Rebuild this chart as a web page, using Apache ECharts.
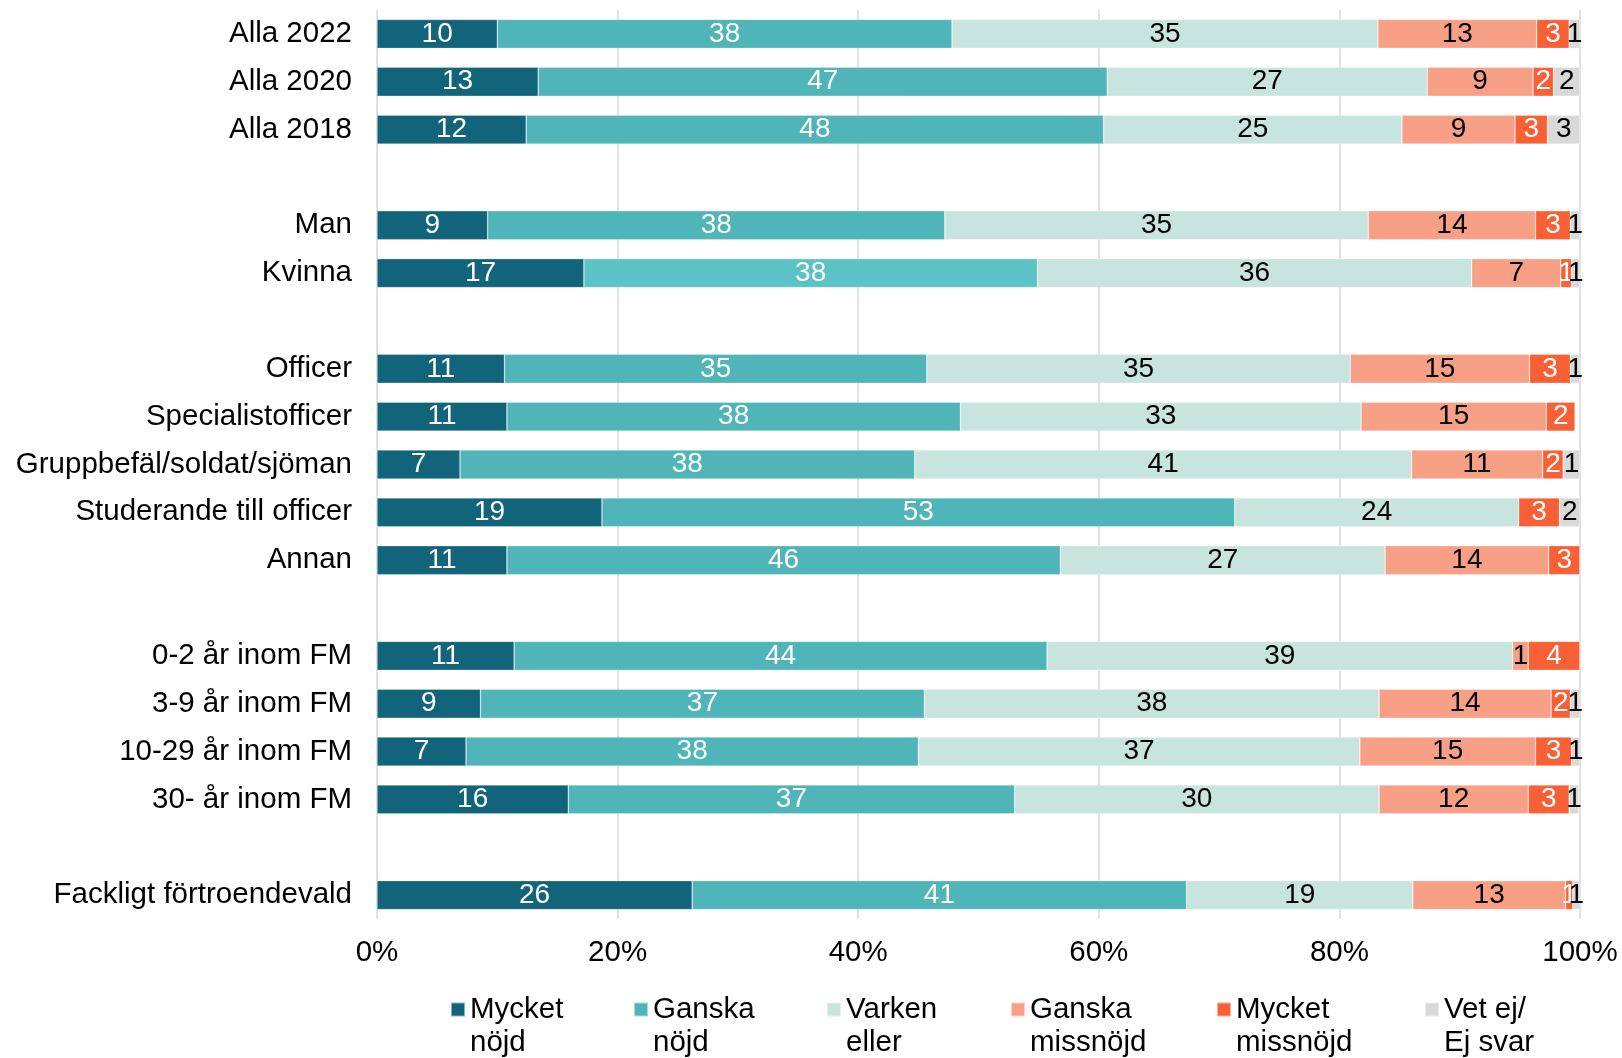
<!DOCTYPE html>
<html><head><meta charset="utf-8">
<script src="https://cdn.jsdelivr.net/npm/echarts@6/dist/echarts.min.js"></script>
<style>html,body{margin:0;padding:0;background:#fff}#chart{width:1622px;height:1058px}</style>
</head><body><div id="chart"></div>
<script>
const categories = ['Alla 2022','Alla 2020','Alla 2018','','Man','Kvinna',' ','Officer','Specialistofficer','Gruppbefäl/soldat/sjöman','Studerande till officer','Annan','  ','0-2 år inom FM','3-9 år inom FM','10-29 år inom FM','30- år inom FM','   ','Fackligt förtroendevald'];
const seriesNames = ['Mycket nöjd','Ganska nöjd','Varken eller','Ganska missnöjd','Mycket missnöjd','Vet ej/Ej svar'];
const legendLabels = ['Mycket\nnöjd','Ganska\nnöjd','Varken\neller','Ganska\nmissnöjd','Mycket\nmissnöjd','Vet ej/\nEj svar'];
const xTicks = [0,20,40,60,80,100];

const mycketNojd   = [10.0,13.4,12.4,null, 9.2,17.2,null,10.6,10.8, 6.9,18.7,10.8,null,11.4, 8.6, 7.4,15.9,null,26.2];
const ganskaNojd   = [37.8,47.3,48.0,null,38.0,37.7,null,35.1,37.7,37.8,52.6,46.0,null,44.3,36.9,37.6,37.1,null,41.1];
const varkenEller  = [35.4,26.6,24.8,null,35.2,36.1,null,35.2,33.3,41.3,23.6,27.0,null,38.7,37.8,36.7,30.3,null,18.8];
const ganskaMiss   = [13.2, 8.8, 9.4,null,13.9, 7.4,null,14.9,15.4,10.9, 0,  13.6,null, 1.3,14.3,14.6,12.4,null,12.7];
const mycketMiss   = [ 2.7, 1.7, 2.7,null, 2.9, 0.9,null, 3.4, 2.4, 1.7, 3.4, 2.6,null, 4.3, 1.6, 3.0, 3.4,null, 0.6];
const vetEj        = [ 0.9, 2.2, 2.7,null, 0.8, 0.7,null, 0.8, 0,   1.4, 1.7, 0,  null, 0,   0.8, 0.7, 0.8,null, 0.6];

const seriesData = [mycketNojd, ganskaNojd, varkenEller, ganskaMiss, mycketMiss, vetEj];
const colors = ['#12647a','#4fb5b9','#c8e4df','#f8a086','#fa6036','#d9d9d9'];
const labelColors = ['#fff','#fff','#000','#000','#fff','#000'];
const highlightTeal = '#5bc3c5'; // Kvinna's Ganska nöjd bar is drawn lighter
const FONT = "'Liberation Sans', Arial, sans-serif";
const legendLeft = [450, 633, 826, 1010, 1216, 1424];

const chart = echarts.init(document.getElementById('chart'), null, {renderer: 'canvas'});
const series = seriesData.map((arr, si) => ({
  name: seriesNames[si],
  type: 'bar',
  stack: 'total',
  barWidth: 29,
  data: arr.map((v, i) => {
    if (si === 1 && categories[i] === 'Kvinna') return {value: v, itemStyle: {color: highlightTeal}};
    return v;
  }),
  itemStyle: {color: colors[si], borderColor: 'rgba(255,255,255,0.5)', borderWidth: 0.6},
  label: {
    show: true,
    position: 'inside',
    color: labelColors[si],
    fontSize: 28,
    fontFamily: FONT,
    formatter: p => (p.value ? String(Math.round(p.value)) : '')
  },
  emphasis: {disabled: true},
  animation: false
}));

const option = {
  animation: false,
  backgroundColor: '#fff',
  grid: {left: 377, right: 42, top: 10, bottom: 139, containLabel: false, outerBoundsMode: 'none'},
  xAxis: {
    type: 'value', min: 0, max: 100, interval: 20,
    axisLine: {show: false}, axisTick: {show: false},
    splitLine: {show: true, lineStyle: {color: '#d9d9d9', width: 1.5}},
    axisLabel: {fontSize: 29.5, color: '#000', fontFamily: FONT, margin: 19,
      formatter: v => (xTicks.includes(v) ? v + '%' : '')}
  },
  yAxis: {
    type: 'category', inverse: true, data: categories,
    axisLine: {show: false}, axisTick: {show: false},
    axisLabel: {fontSize: 29.5, color: '#000', fontFamily: FONT, margin: 25}
  },
  legend: seriesNames.map((n, i) => ({
    data: [n],
    left: legendLeft[i],
    top: 960,
    padding: 0,
    itemWidth: 14, itemHeight: 14,
    icon: 'rect',
    selectedMode: false,
    formatter: () => '\n' + legendLabels[i],
    textStyle: {fontSize: 29.5, lineHeight: 33, color: '#000', fontFamily: FONT}
  })),
  series
};
chart.setOption(option);
</script></body></html>
